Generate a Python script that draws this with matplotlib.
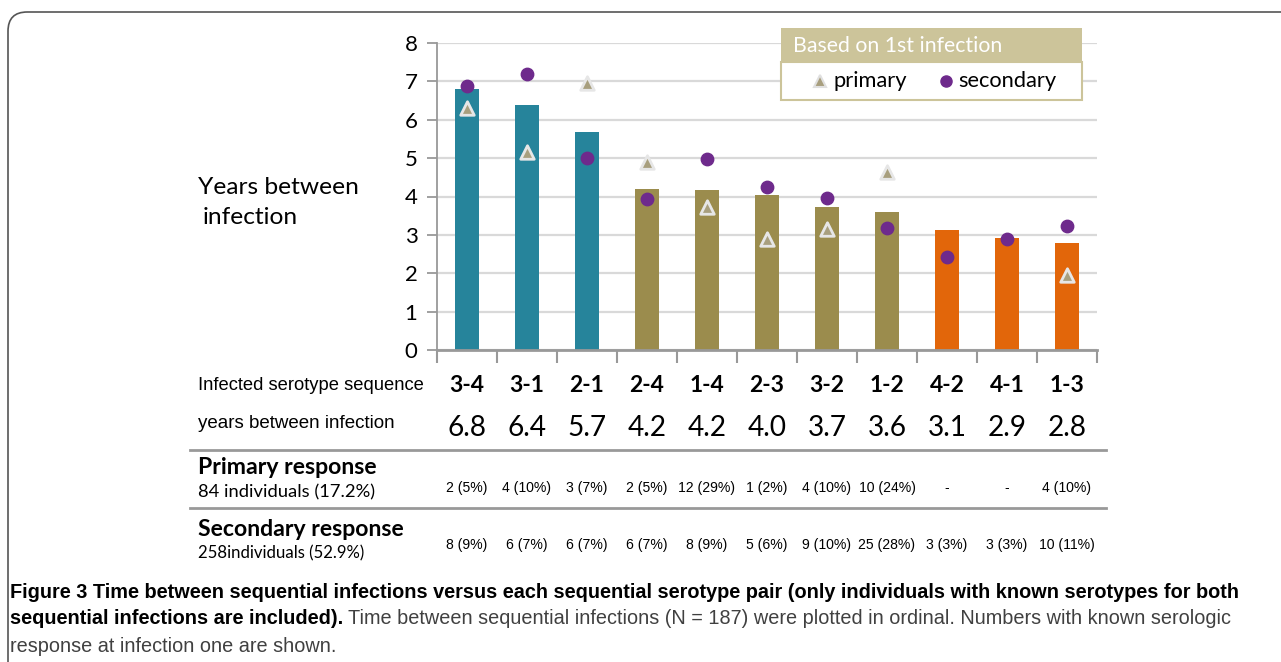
import matplotlib
matplotlib.use("Agg")
import matplotlib.pyplot as plt
import matplotlib.transforms as mtransforms
from matplotlib.patches import FancyBboxPatch, Rectangle
import numpy as np

W, H = 1281, 662
sequences = ["3-4", "3-1", "2-1", "2-4", "1-4", "2-3", "3-2", "1-2", "4-2", "4-1", "1-3"]
years = [6.8, 6.38, 5.67, 4.2, 4.17, 4.05, 3.72, 3.6, 3.13, 2.93, 2.78]
years_labels = ["6.8", "6.4", "5.7", "4.2", "4.2", "4.0", "3.7", "3.6", "3.1", "2.9", "2.8"]
primary = [6.3, 5.15, 6.97, 4.9, 3.72, 2.88, 3.15, 4.65, None, None, 1.95]
secondary = [6.87, 7.18, 5.0, 3.93, 4.97, 4.25, 3.95, 3.17, 2.42, 2.9, 3.22]
primary_counts = ["2 (5%)", "4 (10%)", "3 (7%)", "2 (5%)", "12 (29%)", "1 (2%)",
                  "4 (10%)", "10 (24%)", "-", "-", "4 (10%)"]
secondary_counts = ["8 (9%)", "6 (7%)", "6 (7%)", "6 (7%)", "8 (9%)", "5 (6%)",
                    "9 (10%)", "25 (28%)", "3 (3%)", "3 (3%)", "10 (11%)"]
groups = ["teal"] * 3 + ["olive"] * 5 + ["orange"] * 3
group_colors = {"teal": "#26849B", "olive": "#9B8C4D", "orange": "#E2660A"}

MAIN = ['Lato', 'DejaVu Sans']
NARROW = ['Liberation Sans', 'DejaVu Sans']
plt.rcParams['font.family'] = MAIN

fig = plt.figure(figsize=(W / 100, H / 100), dpi=100)
renderer = fig.canvas.get_renderer()


def fx(x):
    return x / W


def fy(y):
    return 1 - y / H


def fit(t, width_px):
    """Scale the font size of text t so that it spans width_px pixels."""
    for _ in range(3):
        w = t.get_window_extent(renderer=renderer).width
        t.set_fontsize(t.get_fontsize() * width_px / w)
    return t.get_fontsize()


# outer frame
frame = FancyBboxPatch((fx(8), fy(700)), fx(1400), fy(12) - fy(700),
                       boxstyle="round,pad=0,rounding_size=0.015",
                       transform=fig.transFigure, fill=False,
                       edgecolor="#555555", linewidth=1.2, mutation_aspect=W / H)
fig.patches.append(frame)

ax = fig.add_axes([fx(437), fy(350), fx(1097 - 437), fy(43) - fy(350)])
x = np.arange(len(sequences))
ax.bar(x, years, width=0.41, color=[group_colors[g] for g in groups], zorder=2)

px_ = [i for i, v in enumerate(primary) if v is not None]
pv = [primary[i] for i in px_]
ax.scatter(px_, pv, marker='^', s=95, facecolor='#A89F7E', edgecolor='#E6E6E6',
           linewidths=2.0, zorder=4, label='primary')
ax.scatter(x, secondary, marker='o', s=80, color='#6E2A8C', zorder=4, label='secondary')

ax.set_xlim(-0.5, len(sequences) - 0.5)
ax.set_ylim(0, 8)
ax.set_yticks(range(0, 9))
ax.grid(axis='y', color='#D9D9D9', linewidth=1.6, zorder=0)
ax.set_axisbelow(True)
for s in ['top', 'right']:
    ax.spines[s].set_visible(False)
ax.spines['left'].set_color('#999999')
ax.spines['bottom'].set_color('#999999')
ax.spines['bottom'].set_linewidth(2)
ax.spines['left'].set_linewidth(1.3)
ax.set_xticks(np.arange(-0.5, len(sequences), 1.0))
ax.set_xticklabels([])
ax.tick_params(axis='x', direction='out', length=9, width=1.5, color='#999999')
ax.tick_params(axis='y', direction='out', length=7, width=1.3, color='#999999',
               labelsize=16, pad=7)

t = fig.text(fx(198), fy(187), "Years between", va='center', ha='left', fontsize=16)
fs = fit(t, 160)
fig.text(fx(203), fy(218), "infection", fontsize=fs, va='center', ha='left')

# Legend
fig.patches.append(Rectangle((fx(781), fy(62)), fx(301), fy(28) - fy(62),
                             transform=fig.transFigure, facecolor='#CCC49A',
                             edgecolor='none', zorder=5))
fig.patches.append(Rectangle((fx(781), fy(100)), fx(301), fy(62) - fy(100),
                             transform=fig.transFigure, facecolor='white',
                             edgecolor='#CCC49A', linewidth=1.5, zorder=5))
t = fig.text(fx(793), fy(46), "Based on 1st infection", color='white', fontsize=13,
             va='center', ha='left', zorder=6)
fit(t, 210)
t = fig.text(fx(958), fy(81), "secondary", fontsize=13, va='center', ha='left', zorder=6)
fs = fit(t, 98)
fig.text(fx(834), fy(81), "primary", fontsize=fs, va='center', ha='left', zorder=6)
fig.lines.append(plt.Line2D([fx(820)], [fy(81)], marker='^', markersize=8,
                            markerfacecolor='#A89F7E', markeredgecolor='#E0E0E0',
                            markeredgewidth=1.5, transform=fig.transFigure, zorder=7))
fig.lines.append(plt.Line2D([fx(946)], [fy(81)], marker='o', markersize=8,
                            color='#6E2A8C', transform=fig.transFigure, zorder=7))

# Table
bt = mtransforms.blended_transform_factory(ax.transData, fig.transFigure)
t = fig.text(fx(198), fy(386), "Infected serotype sequence", fontsize=13, family=NARROW,
             va='center', ha='left')
fit(t, 226)
t = fig.text(fx(198), fy(424), "years between infection", fontsize=13, family=NARROW,
             va='center', ha='left')
fit(t, 197)

probe = fig.text(0, 0, "3-4", fontsize=14, fontweight='bold')
fs_seq = fit(probe, 35)
probe.remove()
probe = fig.text(0, 0, "6.8", fontsize=16)
fs_yr = fit(probe, 39)
probe.remove()
probe = fig.text(0, 0, "10 (24%)", fontsize=12, family=NARROW)
fs_cnt = fit(probe, 57)
probe.remove()

for i in range(len(sequences)):
    fig.text(i, fy(386), sequences[i], transform=bt, fontsize=fs_seq, fontweight='bold',
             ha='center', va='center')
    fig.text(i, fy(428), years_labels[i], transform=bt, fontsize=fs_yr,
             ha='center', va='center')
    fig.text(i, fy(488), primary_counts[i], transform=bt, fontsize=fs_cnt, family=NARROW,
             ha='center', va='center')
    fig.text(i, fy(545), secondary_counts[i], transform=bt, fontsize=fs_cnt, family=NARROW,
             ha='center', va='center')

for yy in (450, 508):
    fig.lines.append(plt.Line2D([fx(190), fx(1106)], [fy(yy), fy(yy)], color='#999999',
                                linewidth=2, transform=fig.transFigure))

t = fig.text(fx(198), fy(467), "Primary response", fontsize=14, fontweight='bold',
             va='center', ha='left')
fit(t, 179)
t = fig.text(fx(198), fy(492), "84 individuals (17.2%)", fontsize=12.5, va='center',
             ha='left')
fit(t, 177)
t = fig.text(fx(198), fy(529), "Secondary response", fontsize=14, fontweight='bold',
             va='center', ha='left')
fit(t, 205)
t = fig.text(fx(198), fy(553), "258individuals (52.9%)", fontsize=12.5, va='center',
             ha='left')
fit(t, 168)

# Caption
t1 = fig.text(fx(10), fy(592), "Figure 3 Time between sequential infections versus each "
              "sequential serotype pair (only individuals with known serotypes for both",
              fontsize=13, fontweight='bold', family=NARROW, va='center', ha='left')
fs_cap = fit(t1, 1227)
t2 = fig.text(fx(10), fy(619), "sequential infections are included).", fontsize=fs_cap,
              fontweight='bold', family=NARROW, va='center', ha='left')
bb = t2.get_window_extent(renderer=renderer)
fig.text(bb.x1 / W + fx(5), fy(619), "Time between sequential infections (N = 187) "
         "were plotted in ordinal. Numbers with known serologic", fontsize=fs_cap,
         family=NARROW, color='#404040', va='center', ha='left')
fig.text(fx(10), fy(646), "response at infection one are shown.", fontsize=fs_cap,
         family=NARROW, color='#404040', va='center', ha='left')

fig.savefig("out.png", dpi=100)
